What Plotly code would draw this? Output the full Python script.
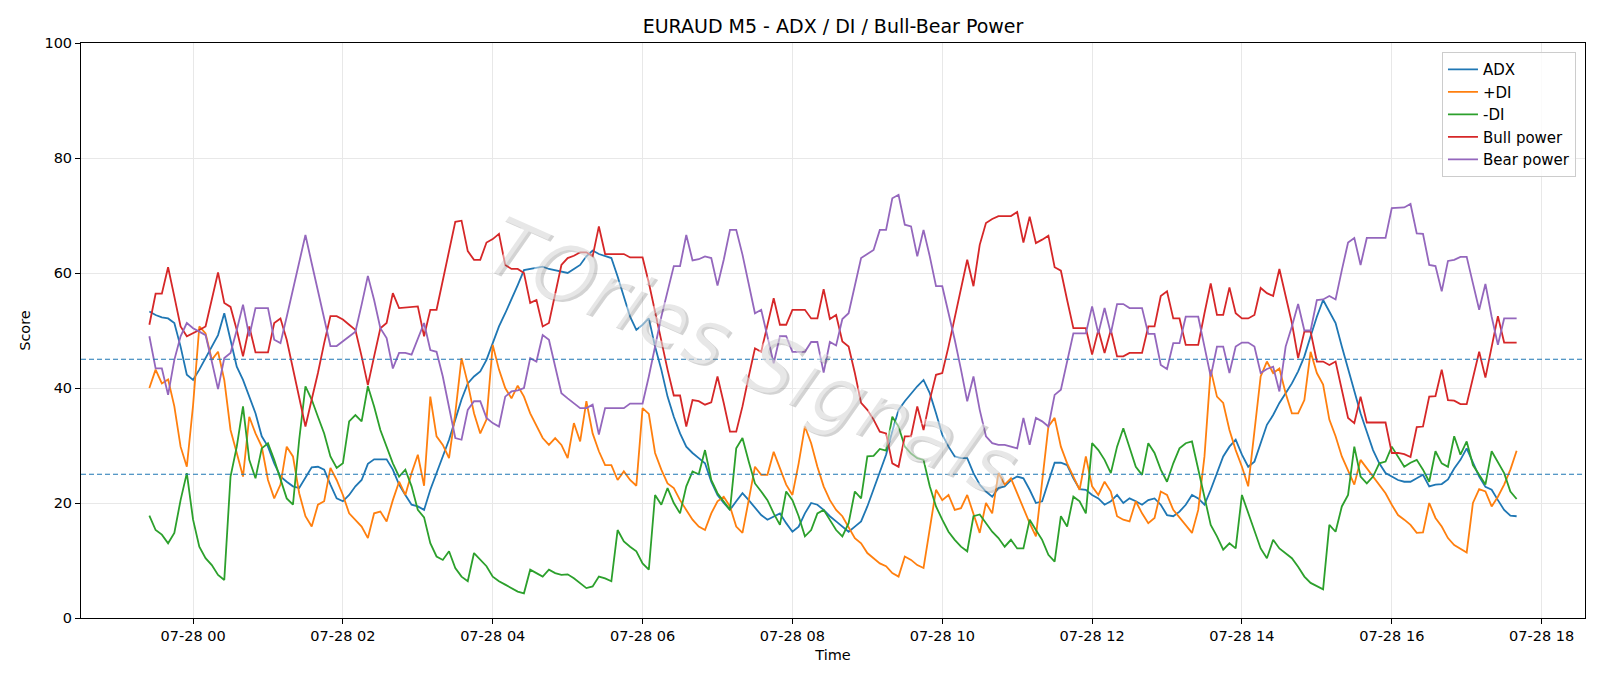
import pandas as pd
import plotly.graph_objects as go

# ---------------- data (5-minute bars, 2025-07-27 23:25 -> 2025-07-28 17:40) ----------------
start_time = "2025-07-27 23:25"
n_points = 220

adx = [53.3, 52.7, 52.3, 52.1, 51.3, 47.2, 42.3, 41.4, 43.2, 45.2, 47.2, 49.2, 53.0, 48.4, 43.7, 41.4, 38.5, 35.6, 31.6, 29.8, 26.9, 24.6,
       23.7, 22.9, 22.6, 24.3, 26.2, 26.3, 25.8, 23.2, 20.8, 20.3, 21.4, 22.9, 24.0, 26.8, 27.6, 27.6, 27.6, 25.8, 23.2, 21.4, 19.7, 19.4,
       18.8, 22.3, 25.2, 28.1, 31.0, 34.5, 38.0, 40.8, 42.0, 42.9, 44.9, 47.8, 50.7, 53.0, 55.3, 57.9, 60.5, 60.7, 60.8, 61.1, 60.7, 60.5,
       60.3, 60.0, 60.7, 61.4, 62.9, 63.9, 63.3, 62.9, 62.6, 59.4, 55.9, 52.4, 50.1, 51.0, 52.1, 47.2, 43.2, 38.5, 35.0, 32.1, 29.8, 28.7, 27.8,
       26.9, 23.7, 21.4, 20.0, 18.8, 20.3, 21.7, 20.5, 19.1, 17.9, 17.1, 17.7, 18.2, 16.5, 15.0, 15.9, 18.2, 20.0, 19.7, 18.8, 17.7, 16.8,
       15.9, 15.0, 15.9, 16.8, 19.4, 22.3, 25.2, 28.4, 32.5, 36.2, 37.7, 39.1, 40.3, 41.4, 39.1, 35.6, 31.9, 29.8, 28.1, 27.8, 27.8, 25.2, 23.2,
       22.0, 21.1, 22.6, 22.9, 24.0, 24.6, 24.3, 22.3, 20.0, 20.3, 23.7, 27.0, 27.0, 26.6, 24.3, 22.4, 22.3, 21.4, 20.8, 19.7, 20.3, 21.4,
       20.0, 20.8, 20.3, 19.7, 20.5, 20.8, 19.7, 17.9, 17.7, 18.5, 19.7, 21.4, 20.8, 19.7, 22.3, 25.2, 28.1, 29.8, 31.0, 28.4, 26.3, 27.2, 30.4,
       33.6, 35.3, 37.4, 39.1, 40.8, 42.9, 45.5, 49.0, 52.4, 55.3, 53.3, 51.3, 47.2, 43.2, 39.4, 35.6, 32.4, 29.2, 26.9, 25.2, 24.6, 24.0,
       23.7, 23.7, 24.3, 24.9, 22.9, 23.2, 23.3, 24.1, 26.0, 27.5, 29.5, 26.9, 24.6, 22.8, 22.3, 20.5, 18.8, 17.8, 17.7]

plus_di = [40.0, 43.2, 40.8, 41.5, 36.8, 29.8, 26.3, 37.0, 50.7, 49.5, 44.9, 46.3, 41.4, 32.7, 28.7, 24.6, 35.0, 32.1, 29.8, 24.0, 20.8, 23.2,
           29.8, 28.1, 21.7, 17.7, 15.9, 19.7, 20.3, 26.1, 24.0, 21.4, 18.2, 17.1, 15.9, 13.9, 18.2, 18.5, 16.8, 20.5, 23.7, 21.4, 25.2, 28.4,
           23.0, 38.5, 31.6, 30.1, 27.8, 35.6, 45.2, 40.8, 35.6, 32.1, 34.5, 47.5, 43.2, 40.0, 38.2, 40.4, 38.5, 35.6, 33.3, 31.3, 30.1, 31.3,
           30.1, 27.8, 33.9, 30.7, 37.7, 32.1, 29.0, 26.6, 26.6, 24.0, 25.5, 24.0, 23.0, 36.5, 35.5, 28.7, 25.8, 23.4, 22.6, 20.5, 18.8, 17.1, 15.9,
           15.3, 18.2, 20.3, 21.1, 19.4, 15.9, 14.8, 20.5, 26.3, 24.9, 24.9, 28.9, 26.0, 23.2, 21.4, 26.9, 33.3, 30.4, 26.3, 22.9, 20.5, 18.8,
           17.7, 15.9, 13.9, 13.0, 11.3, 10.4, 9.5, 9.0, 7.8, 7.2, 10.7, 10.1, 9.2, 8.7, 15.9, 22.3, 20.5, 21.4, 18.8, 19.1, 21.4, 18.2, 14.8,
           20.0, 18.2, 25.2, 23.2, 24.3, 21.7, 18.8, 16.5, 14.2, 24.0, 33.3, 34.8, 29.8, 26.9, 24.6, 22.3, 28.1, 22.9, 21.4, 23.7, 22.0, 17.7,
           17.1, 16.8, 20.3, 18.2, 16.5, 17.4, 22.0, 21.4, 18.8, 17.4, 16.2, 14.8, 18.8, 28.1, 43.2, 38.5, 37.4, 32.7, 29.2, 26.3, 22.9, 32.1, 42.0,
           44.6, 42.6, 43.4, 39.1, 35.6, 35.6, 37.9, 46.3, 42.6, 40.6, 34.5, 31.6, 28.1, 25.8, 23.2, 27.5, 26.0, 24.6, 23.2, 21.7, 19.7, 17.9,
           17.1, 16.2, 14.8, 14.9, 20.0, 17.4, 15.9, 13.9, 12.7, 12.1, 11.4, 20.0, 22.4, 22.0, 19.4, 21.1, 23.2, 25.8, 29.1]

minus_di = [17.8, 15.3, 14.5, 13.0, 14.8, 20.5, 25.2, 17.1, 12.4, 10.4, 9.2, 7.5, 6.6, 24.6, 29.8, 36.8, 27.5, 24.3, 29.5, 30.4, 27.5, 24.0,
            20.8, 19.7, 31.0, 40.3, 38.0, 35.0, 32.1, 28.1, 26.1, 26.9, 34.2, 35.3, 34.2, 40.3, 36.8, 32.7, 29.8, 26.9, 24.6, 25.8, 22.9, 18.8,
            17.5, 13.0, 10.7, 10.1, 11.6, 8.7, 7.2, 6.4, 11.3, 10.1, 9.0, 7.2, 6.4, 5.8, 5.2, 4.6, 4.3, 8.4, 7.8, 7.2, 8.4, 7.8,
            7.5, 7.6, 6.9, 6.1, 5.2, 5.5, 7.2, 6.9, 6.4, 15.3, 13.3, 12.4, 11.6, 9.5, 8.4, 21.4, 19.7, 22.6, 20.0, 18.2, 22.9, 25.5, 25.0,
            29.2, 24.0, 21.7, 20.3, 18.8, 29.5, 31.3, 27.2, 23.4, 22.0, 20.5, 18.2, 16.2, 22.0, 20.5, 17.7, 14.2, 15.3, 18.2, 18.8, 17.1, 15.3,
            14.2, 16.5, 22.0, 20.8, 28.1, 28.2, 29.4, 29.1, 35.0, 33.3, 29.8, 28.6, 27.8, 27.5, 22.9, 19.4, 17.1, 15.0, 13.6, 12.4, 11.6, 17.7, 18.0,
            16.5, 15.0, 13.9, 12.4, 13.6, 12.1, 12.1, 17.1, 15.3, 13.6, 11.0, 9.8, 17.7, 15.9, 21.1, 20.3, 18.2, 30.4, 29.2, 27.5, 25.2, 29.8,
            33.0, 29.8, 26.3, 24.9, 30.4, 28.7, 25.8, 23.7, 26.9, 29.5, 30.4, 30.7, 25.8, 21.1, 16.2, 14.2, 11.9, 13.0, 12.1, 21.4, 18.2, 15.0, 12.1,
            10.4, 13.6, 12.1, 11.3, 10.4, 8.9, 7.2, 6.1, 5.5, 5.0, 16.2, 15.0, 19.4, 21.4, 29.8, 24.6, 23.4, 24.6, 26.9, 27.2, 29.8, 28.1,
            26.3, 27.0, 27.5, 25.8, 23.7, 29.0, 26.9, 26.3, 31.6, 28.4, 30.7, 26.6, 24.9, 23.2, 29.0, 27.2, 25.2, 22.0, 20.7]

bull_power = [51.0, 56.4, 56.4, 61.0, 55.9, 50.7, 49.0, 49.5, 50.1, 50.7, 55.3, 60.1, 54.8, 54.1, 50.1, 45.5, 50.7, 46.2, 46.2, 46.2, 51.3, 52.1,
              48.4, 43.2, 38.0, 33.3, 38.0, 42.6, 47.8, 52.5, 52.5, 51.9, 51.0, 50.1, 45.5, 40.5, 45.5, 50.4, 51.3, 56.5, 53.9, 54.0, 54.2, 54.2,
              49.0, 53.6, 53.6, 58.8, 64.0, 68.9, 69.1, 63.8, 62.3, 62.3, 65.3, 65.9, 66.8, 61.4, 60.7, 60.7, 60.0, 54.8, 55.3, 50.7, 51.3, 56.5,
              61.4, 62.6, 63.0, 63.6, 63.6, 62.9, 68.1, 63.3, 63.3, 63.3, 63.3, 62.7, 62.7, 62.7, 58.3, 53.3, 47.8, 43.2, 38.7, 38.7, 33.3, 37.9, 37.7,
              37.1, 37.5, 42.0, 37.4, 32.4, 32.4, 36.8, 42.0, 46.9, 46.3, 50.7, 55.6, 51.0, 51.0, 53.6, 53.6, 53.6, 52.1, 52.1, 57.2, 52.0, 52.7,
              48.1, 47.2, 42.6, 37.4, 36.2, 34.5, 32.4, 32.1, 26.9, 26.3, 31.6, 31.6, 36.8, 32.7, 37.9, 42.3, 42.6, 47.2, 52.1, 57.1, 62.3, 57.7, 64.9,
              68.7, 69.4, 69.9, 69.9, 69.9, 70.6, 65.3, 69.8, 65.2, 65.8, 66.5, 61.0, 60.4, 55.3, 50.4, 50.4, 50.4, 45.8, 50.1, 46.1, 50.1, 45.5,
              45.5, 46.1, 46.1, 46.1, 50.7, 50.7, 56.0, 56.8, 52.1, 52.1, 47.5, 47.5, 47.5, 53.0, 58.2, 52.7, 52.7, 57.5, 53.0, 52.1, 52.1, 52.7, 57.4,
              56.5, 56.0, 60.7, 56.2, 51.3, 45.2, 49.8, 49.8, 44.6, 44.6, 44.0, 44.6, 39.7, 34.8, 33.9, 38.5, 34.0, 34.0, 34.0, 34.0, 28.7, 28.7,
              28.5, 28.0, 33.2, 33.3, 38.5, 38.6, 43.2, 37.9, 37.8, 37.2, 37.2, 41.7, 46.3, 41.8, 47.2, 52.5, 47.9, 47.9, 47.9]

bear_power = [49.0, 43.4, 43.4, 38.8, 44.9, 49.0, 51.3, 50.4, 49.8, 49.2, 44.6, 39.8, 45.2, 46.1, 50.1, 54.5, 49.0, 53.9, 53.9, 53.9, 48.4, 47.8,
              52.4, 57.1, 61.7, 66.6, 61.7, 56.8, 52.1, 47.3, 47.3, 48.1, 49.0, 49.8, 54.5, 59.5, 55.3, 50.4, 48.7, 43.4, 46.1, 46.1, 45.8, 48.5,
              51.3, 46.6, 46.3, 42.0, 36.8, 31.3, 31.0, 36.2, 37.7, 37.7, 34.8, 33.9, 33.3, 38.5, 39.4, 39.6, 40.0, 45.2, 44.6, 49.2, 48.4, 43.7,
              39.1, 38.2, 37.3, 36.5, 36.5, 37.1, 31.9, 36.5, 36.5, 36.5, 36.5, 37.3, 37.3, 37.3, 42.0, 47.2, 52.4, 56.8, 61.2, 61.2, 66.6, 62.2, 62.4,
              62.9, 62.6, 57.8, 62.3, 67.5, 67.5, 63.2, 58.2, 53.0, 53.6, 49.0, 44.3, 49.0, 49.0, 46.3, 46.3, 46.3, 48.0, 48.0, 42.7, 48.0, 47.4,
              52.0, 53.0, 57.7, 62.6, 63.3, 64.0, 67.5, 67.5, 73.0, 73.6, 68.4, 68.1, 62.9, 67.5, 62.9, 57.7, 57.7, 53.3, 48.4, 43.2, 37.7, 42.0, 36.2,
              31.6, 30.4, 30.1, 30.1, 29.8, 29.5, 34.8, 30.1, 34.8, 34.2, 33.3, 38.8, 39.7, 44.9, 49.5, 49.5, 49.5, 54.2, 49.5, 53.9, 49.5, 54.6,
              54.6, 53.9, 53.9, 53.9, 49.4, 49.4, 44.0, 43.3, 47.8, 47.8, 52.4, 52.4, 52.4, 47.2, 42.0, 47.2, 47.2, 42.6, 47.2, 47.9, 47.9, 47.2, 42.6,
              43.3, 43.7, 39.4, 47.2, 50.7, 54.6, 50.0, 50.0, 55.3, 55.4, 56.0, 55.4, 60.5, 65.3, 66.1, 61.4, 66.1, 66.1, 66.1, 66.1, 71.3, 71.3,
              71.4, 72.0, 66.9, 66.8, 61.4, 61.2, 56.8, 62.1, 62.3, 62.8, 62.8, 58.2, 53.6, 58.1, 52.4, 47.5, 52.1, 52.1, 52.1]

threshold_levels = [45, 25]
series_names = ["ADX", "+DI", "-DI", "Bull power", "Bear power"]
series_colors = ["#1f77b4", "#ff7f0e", "#2ca02c", "#d62728", "#9467bd"]
title_text = "EURAUD M5 - ADX / DI / Bull-Bear Power"
watermark_text = "TOries Signals"

times = pd.date_range(start_time, periods=n_points, freq="5min")

fig = go.Figure()
for name, vals, col in zip(series_names, [adx, plus_di, minus_di, bull_power, bear_power], series_colors):
    fig.add_trace(go.Scatter(x=times, y=vals, mode="lines", name=name,
                             line=dict(color=col, width=1.8)))

for lvl in threshold_levels:
    fig.add_shape(type="line", xref="paper", x0=0, x1=1, yref="y", y0=lvl, y1=lvl,
                  line=dict(color="#1f77b4", width=1.2, dash="5px,3px"), layer="above")

span = times[-1] - times[0]
pad = span * 0.05
x_range = [times[0] - pad, times[-1] + pad]
tick_vals = pd.date_range("2025-07-28 00:00", "2025-07-28 18:00", freq="2h")

# watermark: grey shadow + lighter face
fig.add_annotation(text=watermark_text, xref="paper", yref="paper", x=0.447, y=0.452,
                   showarrow=False, textangle=24,
                   font=dict(family="DejaVu Sans", size=80, color="rgba(110,110,110,0.30)", style="italic"))
fig.add_annotation(text=watermark_text, xref="paper", yref="paper", x=0.445, y=0.455,
                   showarrow=False, textangle=24,
                   font=dict(family="DejaVu Sans", size=80, color="rgba(255,255,255,0.45)", style="italic"))

fig.update_layout(
    width=1600, height=686,
    margin=dict(l=81, r=15, t=43, b=68),
    paper_bgcolor="white", plot_bgcolor="white",
    font=dict(family="DejaVu Sans", size=14, color="black"),
    title=dict(text=title_text, x=0.5, xref="paper", xanchor="center", y=1 - 26 / 686, yanchor="middle",
               font=dict(size=19, color="black")),
    showlegend=True,
    legend=dict(x=0.994, y=0.984, xanchor="right", yanchor="top",
                bgcolor="rgba(255,255,255,0.8)", bordercolor="#cccccc", borderwidth=1,
                font=dict(size=15), tracegroupgap=0),
)
fig.update_xaxes(range=x_range, tickvals=tick_vals, tickformat="%m-%d %H",
                 tickfont=dict(size=14.5),
                 showgrid=True, gridcolor="#e8e8e8", gridwidth=1,
                 showline=True, linecolor="black", linewidth=1, mirror=True,
                 ticks="outside", ticklen=5, tickcolor="black",
                 title=dict(text="Time", standoff=6, font=dict(size=14.5)), zeroline=False)
fig.update_yaxes(range=[0, 100], tickvals=[0, 20, 40, 60, 80, 100],
                 tickfont=dict(size=14.5),
                 showgrid=True, gridcolor="#e8e8e8", gridwidth=1,
                 showline=True, linecolor="black", linewidth=1, mirror=True,
                 ticks="outside", ticklen=5, tickcolor="black",
                 title=dict(text="Score", standoff=10, font=dict(size=14.5)), zeroline=False)

fig.write_html("out.html")
